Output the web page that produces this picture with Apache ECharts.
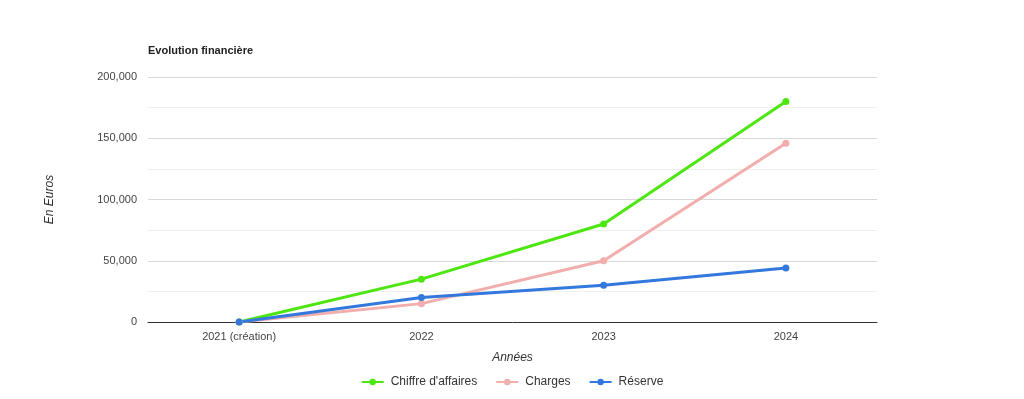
<!DOCTYPE html>
<html>
<head>
    <meta charset="utf-8" />
    <title>Evolution financière</title>
    <style>
        html, body, #chart {
            width: 100%;
            height: 100%;
            margin: 0;
            padding: 0;
            overflow: hidden;
            background: #fff;
        }
    </style>
    <script src="https://cdn.jsdelivr.net/npm/echarts@6/dist/echarts.min.js"></script>
</head>
<body>
    <div id="chart"></div>
    <script>
        var annees = ['2021 (création)', '2022', '2023', '2024'];
        var chiffreAffaires = [0, 35000, 80000, 180000];
        var charges = [0, 15000, 50000, 146000];
        var reserve = [0, 20000, 30000, 44000];

        var font = 'Liberation Sans, Arial, sans-serif';

        function serie(name, data, color) {
            return {
                name: name,
                type: 'line',
                data: data,
                symbol: 'circle',
                symbolSize: 7,
                lineStyle: { width: 3, color: color },
                itemStyle: { color: color },
                emphasis: { disabled: true }
            };
        }

        var myChart = echarts.init(document.getElementById('chart'));
        var option = {
            animation: false,
            textStyle: { fontFamily: font },
            title: {
                text: 'Evolution financière',
                left: 148,
                top: 45,
                padding: 0,
                textStyle: { fontSize: 11, fontWeight: 'bold', color: '#222', fontFamily: font }
            },
            legend: {
                bottom: 6,
                left: 'center',
                itemWidth: 22,
                itemHeight: 8,
                itemGap: 18,
                textStyle: { fontSize: 12, color: '#333', padding: [0, 0, 0, 2] },
                data: ['Chiffre d\'affaires', 'Charges', 'Réserve']
            },
            grid: {
                left: 148,
                right: 147,
                top: 77,
                bottom: 77
            },
            xAxis: {
                type: 'category',
                data: annees,
                boundaryGap: true,
                name: 'Années',
                nameLocation: 'middle',
                nameGap: 30,
                nameTextStyle: { fontStyle: 'italic', fontSize: 12, color: '#333' },
                axisLine: { lineStyle: { color: '#333', width: 1 } },
                axisTick: { show: false },
                axisLabel: { fontSize: 11, color: '#444', margin: 9 }
            },
            yAxis: {
                type: 'value',
                min: 0,
                max: 200000,
                interval: 50000,
                name: 'En Euros',
                nameLocation: 'middle',
                nameGap: 92,
                nameTextStyle: { fontStyle: 'italic', fontSize: 12, color: '#333' },
                axisLine: { show: false },
                axisTick: { show: false },
                axisLabel: {
                    fontSize: 11,
                    color: '#444',
                    margin: 11,
                    formatter: function (v) { return v.toLocaleString('en-US'); }
                },
                splitLine: { lineStyle: { color: '#d8d8d8' } },
                minorTick: { show: false, splitNumber: 2 },
                minorSplitLine: { show: true, lineStyle: { color: '#efefef' } }
            },
            series: [
                serie('Chiffre d\'affaires', chiffreAffaires, '#4ee610'),
                serie('Charges', charges, '#f2adad'),
                serie('Réserve', reserve, '#3378dc')
            ]
        };
        myChart.setOption(option);
    </script>
</body>
</html>
